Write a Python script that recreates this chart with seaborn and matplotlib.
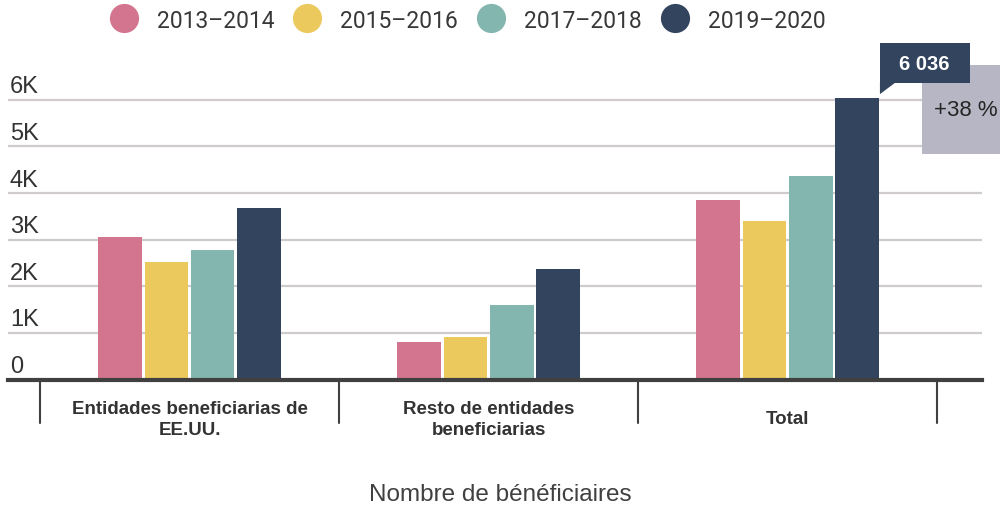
import numpy as np
import pandas as pd
import seaborn as sns
import matplotlib
matplotlib.use("Agg")
import matplotlib.pyplot as plt
import matplotlib.transforms as mtrans
from matplotlib.patches import Rectangle, Polygon
from matplotlib.lines import Line2D

# ---- data ----
categories = ["Entidades beneficiarias de\nEE.UU.", "Resto de entidades\nbeneficiarias", "Total"]
periods = ["2013–2014", "2015–2016", "2017–2018", "2019–2020"]
v_2013_2014 = [3060, 800, 3850]
v_2015_2016 = [2510, 905, 3410]
v_2017_2018 = [2775, 1600, 4375]
v_2019_2020 = [3680, 2375, 6036]
ytick_values = [0, 1000, 2000, 3000, 4000, 5000, 6000]
ytick_labels = ["0", "1K", "2K", "3K", "4K", "5K", "6K"]
callout_value = "6 036"
callout_change = "+38 %"
x_title = "Nombre de bénéficiaires"

colors = ["#d4758f", "#ebc95d", "#82b6ae", "#33445f"]

rows = []
for p, vals in zip(periods, [v_2013_2014, v_2015_2016, v_2017_2018, v_2019_2020]):
    for c, v in zip(categories, vals):
        rows.append({"category": c, "period": p, "value": v})
df = pd.DataFrame(rows)

sns.set_style("white")
plt.rcParams["font.family"] = ["Liberation Sans", "DejaVu Sans"]
ARIAL = ["Liberation Sans", "DejaVu Sans"]
ROBOTO = ["Roboto", "DejaVu Sans"]

W, H = 1000, 506
fig = plt.figure(figsize=(W / 100, H / 100), dpi=100)
ax = fig.add_axes([8 / W, (H - 380.5) / H, (982 - 8) / W, 303 / H])

sns.barplot(data=df, x="category", y="value", hue="period", order=categories,
            hue_order=periods, palette=colors, saturation=1, width=0.62, gap=0.06,
            linewidth=0, legend=False, ax=ax, zorder=3)

ax.set_xlim(-0.607, 2.65)
ax.set_ylim(0, 6500)
ax.set_xlabel("")
ax.set_ylabel("")
ax.set_yticks(ytick_values)
ax.set_xticks([])
ax.tick_params(axis="y", length=0, labelleft=False)
ax.grid(axis="y", color="#cfcbcd", lw=1.6, zorder=0)
ax.set_axisbelow(True)
for s in ["left", "right", "top"]:
    ax.spines[s].set_visible(False)
ax.spines["bottom"].set_color("#404040")
ax.spines["bottom"].set_linewidth(3)
ax.spines["bottom"].set_zorder(5)

# y tick labels above gridlines
ylab_tr = mtrans.offset_copy(mtrans.blended_transform_factory(ax.transAxes, ax.transData),
                             fig=fig, x=2, y=2.5, units="dots")
for v, lab in zip(ytick_values, ytick_labels):
    ax.text(0, v, lab, transform=ylab_tr, ha="left", va="bottom",
            fontsize=17, color="#333333", family=ARIAL)

# category labels and dividers
bl = mtrans.blended_transform_factory(ax.transData, ax.transAxes)
for i, c in enumerate(categories):
    ax.text(i, -0.13, c, transform=bl, ha="center", va="center", fontsize=13.5,
            fontweight="bold", color="#333333", linespacing=1.25, family=ARIAL)
for xv in np.arange(-0.5, len(categories), 1.0):
    ax.plot([xv, xv], [-0.005, -0.145], transform=bl, clip_on=False,
            color="#404040", lw=1.5)

# x title
fig.text(0.5, (H - 495) / H, x_title, ha="center", va="center",
         fontsize=17.5, color="#404040", family=ARIAL)

# legend
handles = [Line2D([], [], ls="", marker="o", markersize=21, markerfacecolor=c,
                  markeredgewidth=0) for c in colors]
fig.legend(handles, periods, ncol=4, loc="center", bbox_to_anchor=(0.4675, 1 - 21 / H),
           frameon=False, handletextpad=0.84, columnspacing=0.84,
           labelcolor="#383838", handlelength=1.2,
           prop={"family": ROBOTO, "size": 16.5})

# callout anchored to the largest bar
bar = max(ax.patches, key=lambda p: p.get_height())
px, py = ax.transData.transform((bar.get_x() + bar.get_width(), bar.get_height()))
ident = mtrans.IdentityTransform()
grey = Rectangle((px + 43, py - 56), 120, 89, facecolor="#b6b6c4", edgecolor="none",
                 transform=ident, zorder=5)
fig.add_artist(grey)
navy = Rectangle((px + 1, py + 15), 90, 40, facecolor="#33445f", edgecolor="none",
                 transform=ident, zorder=6)
fig.add_artist(navy)
tail = Polygon([(px + 1, py + 16), (px + 17, py + 16), (px + 1, py + 4)], closed=True,
               facecolor="#33445f", edgecolor="none", transform=ident, zorder=6)
fig.add_artist(tail)
fig.text(px + 45, py + 35, callout_value, transform=ident, ha="center", va="center",
         fontsize=14.5, fontweight="bold", color="white", zorder=7, family=ARIAL)
fig.text(px + 87, py - 11, callout_change, transform=ident, ha="center", va="center",
         fontsize=16, color="#262626", zorder=7, family=ARIAL)

fig.savefig("out.png", dpi=100)
